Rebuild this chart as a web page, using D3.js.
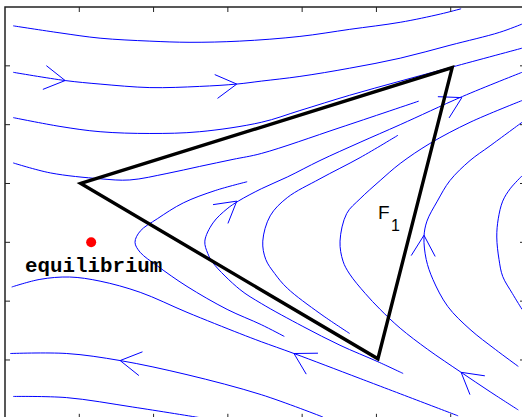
<!DOCTYPE html>
<html>
<head>
<meta charset="utf-8">
<script src="https://cdn.jsdelivr.net/npm/d3@7"></script>
<style>
  body { margin: 0; background: #fff; }
  svg { display: block; }
</style>
</head>
<body>
<svg id="chart" width="522" height="417"></svg>
<script>
// streamlines, in axis units (x 0..7, y 0..7)
var lineA1 = [[0.11,6.68],[0.74,6.56],[1.28,6.47],[1.95,6.42],[2.49,6.40],[3.16,6.42],[3.97,6.50],[4.64,6.62],[5.32,6.74],[5.86,6.88],[6.14,6.97]];
var lineA2 = [[0.11,5.89],[0.81,5.75],[1.28,5.69],[1.95,5.63],[2.62,5.65],[3.12,5.69],[3.45,5.74],[3.97,5.82],[4.64,5.96],[5.32,6.13],[5.99,6.35],[6.66,6.57],[6.96,6.71]];
var lineS3 = [[0.11,5.12],[0.74,4.97],[1.28,4.88],[1.95,4.85],[2.62,4.88],[3.45,5.04],[3.97,5.24],[4.64,5.50],[5.32,5.74],[6.02,5.98],[6.96,6.30]];
var lineS4 = [[0.11,4.35],[0.61,4.18],[1.28,4.08],[1.68,4.06],[2.18,4.17],[2.62,4.29],[3.07,4.41],[3.45,4.51],[4.51,4.95],[5.57,5.40]];
var lineC1 = [[3.26,4.03],[2.83,3.88],[2.40,3.67],[2.05,3.40],[1.82,3.19],[1.75,3.00],[1.82,2.83],[2.05,2.60],[2.45,2.25],[2.99,1.86],[3.45,1.60],[3.76,1.40]];
var lineC2 = [[6.96,5.89],[6.16,5.48],[5.32,5.00],[4.78,4.70],[4.24,4.39],[3.80,4.11],[3.45,3.91],[3.14,3.70],[2.99,3.57],[2.80,3.33],[2.69,3.02],[2.73,2.81],[2.80,2.65],[3.16,2.20],[3.45,1.96],[4.01,1.57],[4.51,1.25],[5.02,0.97],[5.36,0.77]];
var lineC3 = [[5.29,4.82],[4.78,4.44],[4.24,4.08],[3.80,3.76],[3.57,3.45],[3.47,3.02],[3.51,2.71],[3.63,2.47],[3.80,2.22],[4.24,1.79],[4.64,1.45]];
var lineG = [[6.96,5.41],[6.26,5.04],[5.72,4.68],[5.32,4.34],[5.05,4.05],[4.78,3.74],[4.60,3.49],[4.51,3.02],[4.55,2.68],[4.64,2.46],[4.85,2.13],[5.05,1.86],[5.32,1.54],[5.69,1.18],[6.14,0.79],[6.53,0.46],[6.91,0.15]];
var lineH = [[6.96,5.04],[6.53,4.64],[6.26,4.39],[5.99,4.05],[5.82,3.70],[5.68,3.36],[5.64,3.09],[5.67,2.71],[5.76,2.37],[5.96,1.91],[6.26,1.52],[6.60,1.18],[6.91,0.89]];
var lineI = [[6.96,4.13],[6.80,3.91],[6.70,3.70],[6.64,3.40],[6.62,3.09],[6.65,2.71],[6.70,2.42],[6.83,2.13],[6.96,1.86]];
var lineC0 = [[0.09,2.24],[0.47,2.37],[0.87,2.41],[1.28,2.34],[1.82,2.15],[2.45,1.81],[3.16,1.45],[3.45,1.31],[3.89,1.11],[4.79,0.68],[6.10,0.05]];
var lineD1 = [[0.07,1.11],[0.83,1.11],[1.55,0.99],[2.45,0.75],[3.45,0.41],[4.28,0.03]];
var lineD2 = [[0.11,0.38],[0.83,0.36],[1.72,0.20],[2.62,0.02]];

var streamlines = [lineA1, lineA2, lineS3, lineS4, lineC1, lineC2, lineC3, lineG, lineH, lineI, lineC0, lineD1, lineD2];

// arrow heads: tip point and a point behind it on the same streamline
var arrowTips  = [[0.81,5.75],[3.12,5.69],[3.12,3.70],[6.15,5.46],[5.64,3.12],[6.14,0.79],[3.89,1.11],[1.55,0.99]];
var arrowTails = [[0.54,5.80],[2.85,5.65],[2.91,3.49],[5.91,5.30],[5.63,2.78],[6.35,0.58],[4.13,0.94],[1.81,0.94]];

// region F1
var triangle = [[1.02,4.00],[6.02,5.97],[5.02,1.02]];
var equilibrium = [1.16, 3.00];
var xTicks = [0, 1, 2, 3, 4, 5, 6, 7];
var yTicks = [0, 1, 2, 3, 4, 5, 6, 7];

var svg = d3.select("#chart");

var x = d3.scaleLinear().domain([0, 7]).range([5, 525]);
var y = d3.scaleLinear().domain([0, 7]).range([418.8, 7]);

var line = d3.line()
  .x(function(d) { return x(d[0]); })
  .y(function(d) { return y(d[1]); })
  .curve(d3.curveCatmullRom.alpha(0.5));

svg.selectAll(".stream")
  .data(streamlines)
  .enter().append("path")
  .attr("class", "stream")
  .attr("d", line)
  .style("fill", "none")
  .style("stroke", "#0000ff")
  .style("stroke-width", 1);

// V shaped arrow heads
var barbLen = 24, barbAng = 30 * Math.PI / 180;
svg.selectAll(".arrow")
  .data(arrowTips)
  .enter().append("path")
  .attr("class", "arrow")
  .attr("d", function(d, i) {
    var tx = x(d[0]), ty = y(d[1]);
    var bx = x(arrowTails[i][0]), by = y(arrowTails[i][1]);
    var a = Math.atan2(by - ty, bx - tx);
    var p1 = [tx + barbLen * Math.cos(a + barbAng), ty + barbLen * Math.sin(a + barbAng)];
    var p2 = [tx + barbLen * Math.cos(a - barbAng), ty + barbLen * Math.sin(a - barbAng)];
    return "M" + p1 + "L" + tx + "," + ty + "L" + p2;
  })
  .style("fill", "none")
  .style("stroke", "#0000ff")
  .style("stroke-width", 1);

// triangle F1
svg.append("path")
  .attr("d", d3.line()
    .x(function(d) { return x(d[0]); })
    .y(function(d) { return y(d[1]); })(triangle) + "Z")
  .style("fill", "none")
  .style("stroke", "#000")
  .style("stroke-width", 3.4)
  .style("stroke-linejoin", "miter");

svg.append("circle")
  .attr("cx", x(equilibrium[0]))
  .attr("cy", y(equilibrium[1]))
  .attr("r", 5)
  .style("fill", "#ff0000");

svg.append("text")
  .attr("x", x(0.27))
  .attr("y", y(2.49))
  .style("font-family", "'Courier New', 'Liberation Mono', monospace")
  .style("font-weight", "bold")
  .style("font-size", "20.8px")
  .style("fill", "#000")
  .text("equilibrium");

var f1 = svg.append("text")
  .attr("x", x(5.02))
  .attr("y", y(3.40))
  .style("font-family", "Arial, 'Liberation Sans', sans-serif")
  .style("font-size", "19px")
  .style("fill", "#000");
f1.append("tspan").text("F");
f1.append("tspan").attr("dx", 1.5).attr("dy", 12).style("font-size", "16px").text("1");

// axes box, ticks inward, no labels
var frame = svg.append("g");
frame.append("rect")
  .attr("x", x(0)).attr("y", y(7))
  .attr("width", x(7) - x(0)).attr("height", y(0) - y(7))
  .style("fill", "none")
  .style("stroke", "#222")
  .style("stroke-width", 1.5);

var tk = 5;
frame.selectAll(".xt")
  .data(xTicks.slice(1, -1))
  .enter().append("path")
  .attr("d", function(d) {
    return "M" + x(d) + "," + y(7) + "v" + tk + "M" + x(d) + "," + y(0) + "v" + (-tk);
  })
  .style("stroke", "#222").style("stroke-width", 1);
frame.selectAll(".yt")
  .data(yTicks.slice(1, -1))
  .enter().append("path")
  .attr("d", function(d) {
    return "M" + x(0) + "," + y(d) + "h" + tk + "M" + x(7) + "," + y(d) + "h" + (-tk);
  })
  .style("stroke", "#222").style("stroke-width", 1);
</script>
</body>
</html>
